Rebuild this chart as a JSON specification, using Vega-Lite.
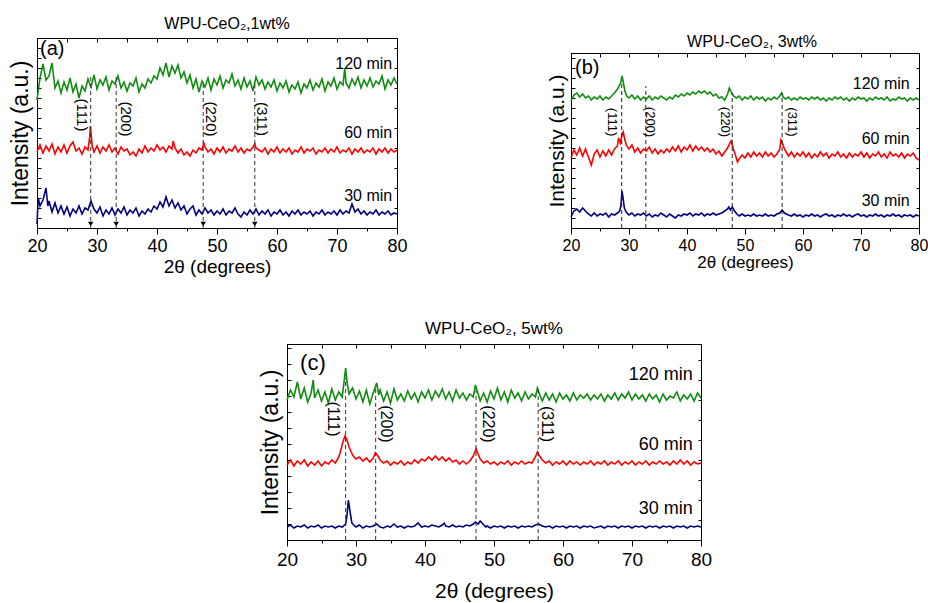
{
"$schema": "https://vega.github.io/schema/vega-lite/v6.json",
"padding": {"left": 9, "top": 15, "right": 5, "bottom": 0},
"config": {
  "font": "Liberation Sans",
  "view": {"stroke": "black", "strokeWidth": 1},
  "axis": {"domainColor": "black", "tickColor": "black", "labelColor": "black", "titleColor": "black", "grid": false, "titleFontWeight": "normal", "labelFont": "Liberation Sans", "titleFont": "Liberation Sans", "labelFlush": false},
  "title": {"fontWeight": "normal", "color": "black", "font": "Liberation Sans"},
  "text": {"font": "Liberation Sans", "color": "black"}
},
"datasets": {
"a": [
{"s":120,"x":20,"y":128},{"s":120,"x":20.5,"y":150},{"s":120,"x":21,"y":164},{"s":120,"x":21.5,"y":148},{"s":120,"x":22,"y":152},{"s":120,"x":22.5,"y":165},{"s":120,"x":23,"y":140},{"s":120,"x":23.5,"y":147},{"s":120,"x":24,"y":135},{"s":120,"x":24.5,"y":146},{"s":120,"x":25,"y":138},{"s":120,"x":25.5,"y":150},{"s":120,"x":26,"y":136},{"s":120,"x":26.5,"y":144},{"s":120,"x":27,"y":130},{"s":120,"x":27.5,"y":142},{"s":120,"x":28,"y":137},{"s":120,"x":28.5,"y":149},{"s":120,"x":29,"y":141},{"s":120,"x":29.5,"y":153},{"s":120,"x":30,"y":139},{"s":120,"x":30.5,"y":148},{"s":120,"x":31,"y":143},{"s":120,"x":31.5,"y":151},{"s":120,"x":32,"y":138},{"s":120,"x":32.5,"y":147},{"s":120,"x":33,"y":144},{"s":120,"x":33.5,"y":152},{"s":120,"x":34,"y":140},{"s":120,"x":34.5,"y":146},{"s":120,"x":35,"y":137},{"s":120,"x":35.5,"y":145},{"s":120,"x":36,"y":142},{"s":120,"x":36.5,"y":150},{"s":120,"x":37,"y":136},{"s":120,"x":37.5,"y":144},{"s":120,"x":38,"y":140},{"s":120,"x":38.5,"y":149},{"s":120,"x":39,"y":145},{"s":120,"x":39.5,"y":152},{"s":120,"x":40,"y":149},{"s":120,"x":40.5,"y":160},{"s":120,"x":41,"y":153},{"s":120,"x":41.5,"y":165},{"s":120,"x":42,"y":151},{"s":120,"x":42.5,"y":162},{"s":120,"x":43,"y":155},{"s":120,"x":43.5,"y":163},{"s":120,"x":44,"y":150},{"s":120,"x":44.5,"y":156},{"s":120,"x":45,"y":145},{"s":120,"x":45.5,"y":153},{"s":120,"x":46,"y":140},{"s":120,"x":46.5,"y":149},{"s":120,"x":47,"y":136},{"s":120,"x":47.5,"y":147},{"s":120,"x":48,"y":141},{"s":120,"x":48.5,"y":150},{"s":120,"x":49,"y":138},{"s":120,"x":49.5,"y":149},{"s":120,"x":50,"y":143},{"s":120,"x":50.5,"y":152},{"s":120,"x":51,"y":140},{"s":120,"x":51.5,"y":148},{"s":120,"x":52,"y":145},{"s":120,"x":52.5,"y":154},{"s":120,"x":53,"y":142},{"s":120,"x":53.5,"y":148},{"s":120,"x":54,"y":139},{"s":120,"x":54.5,"y":150},{"s":120,"x":55,"y":141},{"s":120,"x":55.5,"y":147},{"s":120,"x":56,"y":137},{"s":120,"x":56.5,"y":151},{"s":120,"x":57,"y":143},{"s":120,"x":57.5,"y":148},{"s":120,"x":58,"y":139},{"s":120,"x":58.5,"y":146},{"s":120,"x":59,"y":141},{"s":120,"x":59.5,"y":148},{"s":120,"x":60,"y":137},{"s":120,"x":60.5,"y":145},{"s":120,"x":61,"y":140},{"s":120,"x":61.5,"y":147},{"s":120,"x":62,"y":136},{"s":120,"x":62.5,"y":143},{"s":120,"x":63,"y":139},{"s":120,"x":63.5,"y":146},{"s":120,"x":64,"y":135},{"s":120,"x":64.5,"y":144},{"s":120,"x":65,"y":140},{"s":120,"x":65.5,"y":148},{"s":120,"x":66,"y":138},{"s":120,"x":66.5,"y":145},{"s":120,"x":67,"y":141},{"s":120,"x":67.5,"y":149},{"s":120,"x":68,"y":137},{"s":120,"x":68.5,"y":146},{"s":120,"x":69,"y":142},{"s":120,"x":69.5,"y":150},{"s":120,"x":70,"y":139},{"s":120,"x":70.5,"y":146},{"s":120,"x":71,"y":143},{"s":120,"x":71.3,"y":160},{"s":120,"x":71.5,"y":145},{"s":120,"x":72,"y":140},{"s":120,"x":72.5,"y":149},{"s":120,"x":73,"y":143},{"s":120,"x":73.5,"y":151},{"s":120,"x":74,"y":140},{"s":120,"x":74.5,"y":148},{"s":120,"x":75,"y":142},{"s":120,"x":75.5,"y":150},{"s":120,"x":76,"y":141},{"s":120,"x":76.5,"y":147},{"s":120,"x":77,"y":144},{"s":120,"x":77.5,"y":152},{"s":120,"x":78,"y":139},{"s":120,"x":78.5,"y":148},{"s":120,"x":79,"y":143},{"s":120,"x":79.5,"y":150},{"s":120,"x":80,"y":144},
{"s":60,"x":20,"y":76},{"s":60,"x":20.5,"y":83},{"s":60,"x":21,"y":75},{"s":60,"x":21.5,"y":82},{"s":60,"x":22,"y":77},{"s":60,"x":22.5,"y":84},{"s":60,"x":23,"y":74},{"s":60,"x":23.5,"y":81},{"s":60,"x":24,"y":76},{"s":60,"x":24.5,"y":83},{"s":60,"x":25,"y":75},{"s":60,"x":25.5,"y":82},{"s":60,"x":26,"y":86},{"s":60,"x":26.5,"y":77},{"s":60,"x":27,"y":80},{"s":60,"x":27.5,"y":74},{"s":60,"x":28,"y":81},{"s":60,"x":28.5,"y":78},{"s":60,"x":28.8,"y":92},{"s":60,"x":28.9,"y":102},{"s":60,"x":29,"y":95},{"s":60,"x":29.2,"y":82},{"s":60,"x":29.5,"y":76},{"s":60,"x":30,"y":82},{"s":60,"x":30.5,"y":75},{"s":60,"x":31,"y":81},{"s":60,"x":31.5,"y":77},{"s":60,"x":32,"y":83},{"s":60,"x":32.5,"y":76},{"s":60,"x":33,"y":80},{"s":60,"x":33.5,"y":74},{"s":60,"x":34,"y":81},{"s":60,"x":34.5,"y":77},{"s":60,"x":35,"y":79},{"s":60,"x":35.5,"y":73},{"s":60,"x":36,"y":76},{"s":60,"x":36.5,"y":72},{"s":60,"x":37,"y":79},{"s":60,"x":37.5,"y":75},{"s":60,"x":38,"y":82},{"s":60,"x":38.5,"y":76},{"s":60,"x":39,"y":80},{"s":60,"x":39.5,"y":77},{"s":60,"x":40,"y":83},{"s":60,"x":40.5,"y":78},{"s":60,"x":41,"y":81},{"s":60,"x":41.5,"y":76},{"s":60,"x":42,"y":82},{"s":60,"x":42.5,"y":79},{"s":60,"x":42.7,"y":87},{"s":60,"x":43,"y":80},{"s":60,"x":43.5,"y":75},{"s":60,"x":44,"y":79},{"s":60,"x":44.5,"y":73},{"s":60,"x":45,"y":76},{"s":60,"x":45.5,"y":72},{"s":60,"x":46,"y":78},{"s":60,"x":46.5,"y":75},{"s":60,"x":47,"y":80},{"s":60,"x":47.5,"y":78},{"s":60,"x":47.8,"y":85},{"s":60,"x":48,"y":81},{"s":60,"x":48.5,"y":76},{"s":60,"x":49,"y":79},{"s":60,"x":49.5,"y":74},{"s":60,"x":50,"y":80},{"s":60,"x":50.5,"y":76},{"s":60,"x":51,"y":81},{"s":60,"x":51.5,"y":75},{"s":60,"x":52,"y":79},{"s":60,"x":52.5,"y":77},{"s":60,"x":53,"y":82},{"s":60,"x":53.5,"y":76},{"s":60,"x":54,"y":80},{"s":60,"x":54.5,"y":75},{"s":60,"x":55,"y":79},{"s":60,"x":55.5,"y":77},{"s":60,"x":56,"y":81},{"s":60,"x":56.3,"y":84},{"s":60,"x":56.5,"y":80},{"s":60,"x":57,"y":78},{"s":60,"x":57.5,"y":76},{"s":60,"x":58,"y":80},{"s":60,"x":58.5,"y":74},{"s":60,"x":59,"y":79},{"s":60,"x":59.5,"y":76},{"s":60,"x":60,"y":81},{"s":60,"x":60.5,"y":75},{"s":60,"x":61,"y":79},{"s":60,"x":61.5,"y":76},{"s":60,"x":62,"y":80},{"s":60,"x":62.5,"y":74},{"s":60,"x":63,"y":78},{"s":60,"x":63.5,"y":76},{"s":60,"x":64,"y":81},{"s":60,"x":64.5,"y":75},{"s":60,"x":65,"y":79},{"s":60,"x":65.5,"y":77},{"s":60,"x":66,"y":80},{"s":60,"x":66.5,"y":74},{"s":60,"x":67,"y":78},{"s":60,"x":67.5,"y":76},{"s":60,"x":68,"y":80},{"s":60,"x":68.5,"y":75},{"s":60,"x":69,"y":79},{"s":60,"x":69.5,"y":76},{"s":60,"x":70,"y":81},{"s":60,"x":70.5,"y":75},{"s":60,"x":71,"y":78},{"s":60,"x":71.5,"y":76},{"s":60,"x":72,"y":80},{"s":60,"x":72.5,"y":74},{"s":60,"x":73,"y":79},{"s":60,"x":73.5,"y":76},{"s":60,"x":74,"y":80},{"s":60,"x":74.5,"y":75},{"s":60,"x":75,"y":78},{"s":60,"x":75.5,"y":76},{"s":60,"x":76,"y":80},{"s":60,"x":76.5,"y":74},{"s":60,"x":77,"y":79},{"s":60,"x":77.5,"y":76},{"s":60,"x":78,"y":80},{"s":60,"x":78.5,"y":75},{"s":60,"x":79,"y":79},{"s":60,"x":79.5,"y":76},{"s":60,"x":80,"y":78},
{"s":30,"x":20,"y":4},{"s":30,"x":20.2,"y":30},{"s":30,"x":20.5,"y":22},{"s":30,"x":21,"y":28},{"s":30,"x":21.5,"y":40},{"s":30,"x":21.8,"y":22},{"s":30,"x":22,"y":27},{"s":30,"x":22.5,"y":16},{"s":30,"x":23,"y":25},{"s":30,"x":23.5,"y":15},{"s":30,"x":24,"y":22},{"s":30,"x":24.5,"y":14},{"s":30,"x":25,"y":21},{"s":30,"x":25.5,"y":12},{"s":30,"x":26,"y":19},{"s":30,"x":26.5,"y":15},{"s":30,"x":27,"y":22},{"s":30,"x":27.5,"y":14},{"s":30,"x":28,"y":20},{"s":30,"x":28.5,"y":18},{"s":30,"x":29,"y":27},{"s":30,"x":29.5,"y":19},{"s":30,"x":30,"y":15},{"s":30,"x":30.5,"y":21},{"s":30,"x":31,"y":12},{"s":30,"x":31.5,"y":18},{"s":30,"x":32,"y":14},{"s":30,"x":32.5,"y":20},{"s":30,"x":33,"y":13},{"s":30,"x":33.5,"y":19},{"s":30,"x":34,"y":15},{"s":30,"x":34.5,"y":21},{"s":30,"x":35,"y":13},{"s":30,"x":35.5,"y":18},{"s":30,"x":36,"y":15},{"s":30,"x":36.5,"y":20},{"s":30,"x":37,"y":12},{"s":30,"x":37.5,"y":17},{"s":30,"x":38,"y":14},{"s":30,"x":38.5,"y":19},{"s":30,"x":39,"y":16},{"s":30,"x":39.5,"y":22},{"s":30,"x":40,"y":19},{"s":30,"x":40.5,"y":26},{"s":30,"x":41,"y":21},{"s":30,"x":41.5,"y":31},{"s":30,"x":42,"y":22},{"s":30,"x":42.5,"y":28},{"s":30,"x":43,"y":20},{"s":30,"x":43.5,"y":25},{"s":30,"x":44,"y":18},{"s":30,"x":44.5,"y":22},{"s":30,"x":45,"y":14},{"s":30,"x":45.5,"y":19},{"s":30,"x":46,"y":22},{"s":30,"x":46.5,"y":13},{"s":30,"x":47,"y":18},{"s":30,"x":47.5,"y":14},{"s":30,"x":48,"y":20},{"s":30,"x":48.5,"y":15},{"s":30,"x":49,"y":18},{"s":30,"x":49.5,"y":13},{"s":30,"x":50,"y":17},{"s":30,"x":50.5,"y":14},{"s":30,"x":51,"y":19},{"s":30,"x":51.5,"y":13},{"s":30,"x":52,"y":17},{"s":30,"x":52.5,"y":15},{"s":30,"x":53,"y":20},{"s":30,"x":53.5,"y":14},{"s":30,"x":54,"y":11},{"s":30,"x":54.5,"y":16},{"s":30,"x":55,"y":13},{"s":30,"x":55.5,"y":18},{"s":30,"x":56,"y":14},{"s":30,"x":56.5,"y":19},{"s":30,"x":57,"y":13},{"s":30,"x":57.5,"y":17},{"s":30,"x":58,"y":14},{"s":30,"x":58.5,"y":18},{"s":30,"x":59,"y":12},{"s":30,"x":59.5,"y":16},{"s":30,"x":60,"y":14},{"s":30,"x":60.5,"y":18},{"s":30,"x":61,"y":13},{"s":30,"x":61.5,"y":16},{"s":30,"x":62,"y":12},{"s":30,"x":62.5,"y":17},{"s":30,"x":63,"y":14},{"s":30,"x":63.5,"y":18},{"s":30,"x":64,"y":13},{"s":30,"x":64.5,"y":16},{"s":30,"x":65,"y":14},{"s":30,"x":65.5,"y":17},{"s":30,"x":66,"y":12},{"s":30,"x":66.5,"y":16},{"s":30,"x":67,"y":14},{"s":30,"x":67.5,"y":18},{"s":30,"x":68,"y":13},{"s":30,"x":68.5,"y":16},{"s":30,"x":69,"y":14},{"s":30,"x":69.5,"y":17},{"s":30,"x":70,"y":13},{"s":30,"x":70.5,"y":18},{"s":30,"x":71,"y":14},{"s":30,"x":71.5,"y":17},{"s":30,"x":72,"y":15},{"s":30,"x":72.5,"y":24},{"s":30,"x":73,"y":16},{"s":30,"x":73.5,"y":19},{"s":30,"x":74,"y":14},{"s":30,"x":74.5,"y":17},{"s":30,"x":75,"y":13},{"s":30,"x":75.5,"y":16},{"s":30,"x":76,"y":14},{"s":30,"x":76.5,"y":18},{"s":30,"x":77,"y":13},{"s":30,"x":77.5,"y":16},{"s":30,"x":78,"y":14},{"s":30,"x":78.5,"y":17},{"s":30,"x":79,"y":13},{"s":30,"x":79.5,"y":15},{"s":30,"x":80,"y":14}
],
"b": [
{"s":120,"x":20,"y":127},{"s":120,"x":20.5,"y":133},{"s":120,"x":21,"y":135},{"s":120,"x":21.5,"y":131},{"s":120,"x":22,"y":134},{"s":120,"x":22.5,"y":130},{"s":120,"x":23,"y":132},{"s":120,"x":23.5,"y":128},{"s":120,"x":24,"y":131},{"s":120,"x":24.5,"y":129},{"s":120,"x":25,"y":132},{"s":120,"x":25.5,"y":128},{"s":120,"x":26,"y":131},{"s":120,"x":26.5,"y":129},{"s":120,"x":27,"y":132},{"s":120,"x":27.5,"y":135},{"s":120,"x":28,"y":139},{"s":120,"x":28.3,"y":142},{"s":120,"x":28.6,"y":146},{"s":120,"x":28.8,"y":152},{"s":120,"x":29,"y":146},{"s":120,"x":29.3,"y":137},{"s":120,"x":29.6,"y":132},{"s":120,"x":30,"y":130},{"s":120,"x":30.5,"y":133},{"s":120,"x":31,"y":129},{"s":120,"x":31.5,"y":132},{"s":120,"x":32,"y":128},{"s":120,"x":32.5,"y":131},{"s":120,"x":33,"y":129},{"s":120,"x":33.5,"y":132},{"s":120,"x":34,"y":128},{"s":120,"x":34.5,"y":131},{"s":120,"x":35,"y":129},{"s":120,"x":35.5,"y":132},{"s":120,"x":36,"y":130},{"s":120,"x":36.5,"y":128},{"s":120,"x":37,"y":131},{"s":120,"x":37.5,"y":129},{"s":120,"x":38,"y":133},{"s":120,"x":38.5,"y":131},{"s":120,"x":39,"y":134},{"s":120,"x":39.5,"y":132},{"s":120,"x":40,"y":135},{"s":120,"x":40.5,"y":133},{"s":120,"x":41,"y":136},{"s":120,"x":41.5,"y":134},{"s":120,"x":42,"y":137},{"s":120,"x":42.5,"y":135},{"s":120,"x":43,"y":137},{"s":120,"x":43.5,"y":134},{"s":120,"x":44,"y":136},{"s":120,"x":44.5,"y":132},{"s":120,"x":45,"y":134},{"s":120,"x":45.5,"y":130},{"s":120,"x":46,"y":131},{"s":120,"x":46.5,"y":128},{"s":120,"x":47,"y":134},{"s":120,"x":47.3,"y":140},{"s":120,"x":47.6,"y":136},{"s":120,"x":48,"y":132},{"s":120,"x":48.5,"y":130},{"s":120,"x":49,"y":132},{"s":120,"x":49.5,"y":128},{"s":120,"x":50,"y":131},{"s":120,"x":50.5,"y":129},{"s":120,"x":51,"y":132},{"s":120,"x":51.5,"y":128},{"s":120,"x":52,"y":131},{"s":120,"x":52.5,"y":129},{"s":120,"x":53,"y":131},{"s":120,"x":53.5,"y":127},{"s":120,"x":54,"y":130},{"s":120,"x":54.5,"y":128},{"s":120,"x":55,"y":131},{"s":120,"x":55.5,"y":129},{"s":120,"x":56,"y":132},{"s":120,"x":56.3,"y":135},{"s":120,"x":56.6,"y":131},{"s":120,"x":57,"y":129},{"s":120,"x":57.5,"y":131},{"s":120,"x":58,"y":128},{"s":120,"x":58.5,"y":130},{"s":120,"x":59,"y":128},{"s":120,"x":59.5,"y":131},{"s":120,"x":60,"y":129},{"s":120,"x":60.5,"y":130},{"s":120,"x":61,"y":128},{"s":120,"x":61.5,"y":131},{"s":120,"x":62,"y":129},{"s":120,"x":62.5,"y":131},{"s":120,"x":63,"y":128},{"s":120,"x":63.5,"y":130},{"s":120,"x":64,"y":127},{"s":120,"x":64.5,"y":130},{"s":120,"x":65,"y":128},{"s":120,"x":65.5,"y":131},{"s":120,"x":66,"y":129},{"s":120,"x":66.5,"y":131},{"s":120,"x":67,"y":128},{"s":120,"x":67.5,"y":130},{"s":120,"x":68,"y":127},{"s":120,"x":68.5,"y":130},{"s":120,"x":69,"y":128},{"s":120,"x":69.5,"y":131},{"s":120,"x":70,"y":129},{"s":120,"x":70.5,"y":130},{"s":120,"x":71,"y":127},{"s":120,"x":71.5,"y":130},{"s":120,"x":72,"y":128},{"s":120,"x":72.5,"y":131},{"s":120,"x":73,"y":129},{"s":120,"x":73.5,"y":130},{"s":120,"x":74,"y":128},{"s":120,"x":74.5,"y":131},{"s":120,"x":75,"y":127},{"s":120,"x":75.5,"y":129},{"s":120,"x":76,"y":128},{"s":120,"x":76.5,"y":131},{"s":120,"x":77,"y":129},{"s":120,"x":77.5,"y":130},{"s":120,"x":78,"y":127},{"s":120,"x":78.5,"y":130},{"s":120,"x":79,"y":128},{"s":120,"x":79.5,"y":130},{"s":120,"x":80,"y":128},
{"s":60,"x":20,"y":70},{"s":60,"x":20.5,"y":78},{"s":60,"x":21,"y":73},{"s":60,"x":21.5,"y":80},{"s":60,"x":22,"y":72},{"s":60,"x":22.5,"y":79},{"s":60,"x":23,"y":71},{"s":60,"x":23.5,"y":63},{"s":60,"x":24,"y":74},{"s":60,"x":24.5,"y":78},{"s":60,"x":25,"y":71},{"s":60,"x":25.5,"y":77},{"s":60,"x":26,"y":72},{"s":60,"x":26.5,"y":78},{"s":60,"x":27,"y":73},{"s":60,"x":27.5,"y":79},{"s":60,"x":28,"y":82},{"s":60,"x":28.2,"y":90},{"s":60,"x":28.5,"y":85},{"s":60,"x":28.8,"y":93},{"s":60,"x":29,"y":96},{"s":60,"x":29.3,"y":88},{"s":60,"x":29.6,"y":82},{"s":60,"x":30,"y":79},{"s":60,"x":30.5,"y":83},{"s":60,"x":31,"y":76},{"s":60,"x":31.5,"y":80},{"s":60,"x":32,"y":75},{"s":60,"x":32.5,"y":79},{"s":60,"x":33,"y":77},{"s":60,"x":33.5,"y":81},{"s":60,"x":34,"y":75},{"s":60,"x":34.5,"y":79},{"s":60,"x":35,"y":74},{"s":60,"x":35.5,"y":78},{"s":60,"x":36,"y":75},{"s":60,"x":36.5,"y":79},{"s":60,"x":37,"y":76},{"s":60,"x":37.5,"y":81},{"s":60,"x":38,"y":77},{"s":60,"x":38.5,"y":82},{"s":60,"x":39,"y":76},{"s":60,"x":39.5,"y":81},{"s":60,"x":40,"y":78},{"s":60,"x":40.5,"y":83},{"s":60,"x":41,"y":77},{"s":60,"x":41.5,"y":82},{"s":60,"x":42,"y":78},{"s":60,"x":42.5,"y":81},{"s":60,"x":43,"y":77},{"s":60,"x":43.5,"y":80},{"s":60,"x":44,"y":76},{"s":60,"x":44.5,"y":79},{"s":60,"x":45,"y":74},{"s":60,"x":45.5,"y":77},{"s":60,"x":46,"y":72},{"s":60,"x":46.5,"y":76},{"s":60,"x":47,"y":80},{"s":60,"x":47.3,"y":84},{"s":60,"x":47.6,"y":87},{"s":60,"x":48,"y":79},{"s":60,"x":48.4,"y":72},{"s":60,"x":48.7,"y":66},{"s":60,"x":49,"y":69},{"s":60,"x":49.5,"y":73},{"s":60,"x":50,"y":70},{"s":60,"x":50.5,"y":75},{"s":60,"x":51,"y":71},{"s":60,"x":51.5,"y":76},{"s":60,"x":52,"y":72},{"s":60,"x":52.5,"y":75},{"s":60,"x":53,"y":71},{"s":60,"x":53.5,"y":76},{"s":60,"x":54,"y":72},{"s":60,"x":54.5,"y":75},{"s":60,"x":55,"y":71},{"s":60,"x":55.5,"y":74},{"s":60,"x":56,"y":79},{"s":60,"x":56.2,"y":88},{"s":60,"x":56.5,"y":84},{"s":60,"x":56.8,"y":79},{"s":60,"x":57.2,"y":75},{"s":60,"x":57.5,"y":72},{"s":60,"x":58,"y":76},{"s":60,"x":58.5,"y":71},{"s":60,"x":59,"y":75},{"s":60,"x":59.5,"y":72},{"s":60,"x":60,"y":76},{"s":60,"x":60.5,"y":71},{"s":60,"x":61,"y":75},{"s":60,"x":61.5,"y":70},{"s":60,"x":62,"y":74},{"s":60,"x":62.5,"y":71},{"s":60,"x":63,"y":76},{"s":60,"x":63.5,"y":72},{"s":60,"x":64,"y":75},{"s":60,"x":64.5,"y":70},{"s":60,"x":65,"y":74},{"s":60,"x":65.5,"y":72},{"s":60,"x":66,"y":76},{"s":60,"x":66.5,"y":71},{"s":60,"x":67,"y":74},{"s":60,"x":67.5,"y":70},{"s":60,"x":68,"y":75},{"s":60,"x":68.5,"y":71},{"s":60,"x":69,"y":74},{"s":60,"x":69.5,"y":72},{"s":60,"x":70,"y":76},{"s":60,"x":70.5,"y":71},{"s":60,"x":71,"y":75},{"s":60,"x":71.5,"y":70},{"s":60,"x":72,"y":74},{"s":60,"x":72.5,"y":72},{"s":60,"x":73,"y":76},{"s":60,"x":73.5,"y":71},{"s":60,"x":74,"y":74},{"s":60,"x":74.5,"y":70},{"s":60,"x":75,"y":76},{"s":60,"x":75.5,"y":72},{"s":60,"x":76,"y":74},{"s":60,"x":76.5,"y":71},{"s":60,"x":77,"y":75},{"s":60,"x":77.5,"y":70},{"s":60,"x":78,"y":74},{"s":60,"x":78.5,"y":72},{"s":60,"x":79,"y":75},{"s":60,"x":79.5,"y":70},{"s":60,"x":80,"y":68},
{"s":30,"x":20,"y":11},{"s":30,"x":20.5,"y":17},{"s":30,"x":21,"y":19},{"s":30,"x":21.5,"y":16},{"s":30,"x":22,"y":20},{"s":30,"x":22.5,"y":17},{"s":30,"x":23,"y":14},{"s":30,"x":23.5,"y":12},{"s":30,"x":24,"y":15},{"s":30,"x":24.5,"y":12},{"s":30,"x":25,"y":14},{"s":30,"x":25.5,"y":13},{"s":30,"x":26,"y":15},{"s":30,"x":26.5,"y":11},{"s":30,"x":27,"y":14},{"s":30,"x":27.5,"y":13},{"s":30,"x":28,"y":15},{"s":30,"x":28.4,"y":17},{"s":30,"x":28.6,"y":22},{"s":30,"x":28.8,"y":37},{"s":30,"x":29,"y":29},{"s":30,"x":29.2,"y":20},{"s":30,"x":29.5,"y":16},{"s":30,"x":30,"y":13},{"s":30,"x":30.5,"y":15},{"s":30,"x":31,"y":12},{"s":30,"x":31.5,"y":14},{"s":30,"x":32,"y":13},{"s":30,"x":32.5,"y":15},{"s":30,"x":33,"y":12},{"s":30,"x":33.5,"y":14},{"s":30,"x":34,"y":11},{"s":30,"x":34.5,"y":13},{"s":30,"x":35,"y":12},{"s":30,"x":35.5,"y":15},{"s":30,"x":36,"y":13},{"s":30,"x":36.5,"y":11},{"s":30,"x":37,"y":14},{"s":30,"x":37.5,"y":12},{"s":30,"x":38,"y":10},{"s":30,"x":38.5,"y":13},{"s":30,"x":39,"y":12},{"s":30,"x":39.5,"y":14},{"s":30,"x":40,"y":13},{"s":30,"x":40.5,"y":15},{"s":30,"x":41,"y":12},{"s":30,"x":41.5,"y":14},{"s":30,"x":42,"y":13},{"s":30,"x":42.5,"y":15},{"s":30,"x":43,"y":12},{"s":30,"x":43.5,"y":14},{"s":30,"x":44,"y":13},{"s":30,"x":44.5,"y":15},{"s":30,"x":45,"y":13},{"s":30,"x":45.5,"y":14},{"s":30,"x":46,"y":15},{"s":30,"x":46.5,"y":17},{"s":30,"x":47,"y":19},{"s":30,"x":47.2,"y":21},{"s":30,"x":47.5,"y":18},{"s":30,"x":47.8,"y":21},{"s":30,"x":48.2,"y":17},{"s":30,"x":48.6,"y":14},{"s":30,"x":49,"y":12},{"s":30,"x":49.5,"y":14},{"s":30,"x":50,"y":12},{"s":30,"x":50.5,"y":13},{"s":30,"x":51,"y":12},{"s":30,"x":51.5,"y":14},{"s":30,"x":52,"y":12},{"s":30,"x":52.5,"y":13},{"s":30,"x":53,"y":12},{"s":30,"x":53.5,"y":14},{"s":30,"x":54,"y":12},{"s":30,"x":54.5,"y":13},{"s":30,"x":55,"y":12},{"s":30,"x":55.5,"y":14},{"s":30,"x":56,"y":15},{"s":30,"x":56.4,"y":18},{"s":30,"x":56.8,"y":15},{"s":30,"x":57.5,"y":13},{"s":30,"x":58,"y":12},{"s":30,"x":58.5,"y":14},{"s":30,"x":59,"y":12},{"s":30,"x":59.5,"y":13},{"s":30,"x":60,"y":11},{"s":30,"x":60.5,"y":13},{"s":30,"x":61,"y":12},{"s":30,"x":61.5,"y":14},{"s":30,"x":62,"y":12},{"s":30,"x":62.5,"y":13},{"s":30,"x":63,"y":11},{"s":30,"x":63.5,"y":13},{"s":30,"x":64,"y":14},{"s":30,"x":64.5,"y":12},{"s":30,"x":65,"y":13},{"s":30,"x":65.5,"y":11},{"s":30,"x":66,"y":13},{"s":30,"x":66.5,"y":12},{"s":30,"x":67,"y":14},{"s":30,"x":67.5,"y":12},{"s":30,"x":68,"y":13},{"s":30,"x":68.5,"y":11},{"s":30,"x":69,"y":13},{"s":30,"x":69.5,"y":14},{"s":30,"x":70,"y":12},{"s":30,"x":70.5,"y":13},{"s":30,"x":71,"y":11},{"s":30,"x":71.5,"y":13},{"s":30,"x":72,"y":12},{"s":30,"x":72.5,"y":14},{"s":30,"x":73,"y":12},{"s":30,"x":73.5,"y":13},{"s":30,"x":74,"y":11},{"s":30,"x":74.5,"y":13},{"s":30,"x":75,"y":12},{"s":30,"x":75.5,"y":14},{"s":30,"x":76,"y":12},{"s":30,"x":76.5,"y":13},{"s":30,"x":77,"y":11},{"s":30,"x":77.5,"y":13},{"s":30,"x":78,"y":12},{"s":30,"x":78.5,"y":13},{"s":30,"x":79,"y":11},{"s":30,"x":79.5,"y":13},{"s":30,"x":80,"y":12}
],
"c": [
{"s":120,"x":20,"y":140},{"s":120,"x":20.5,"y":150},{"s":120,"x":21,"y":143},{"s":120,"x":21.5,"y":158},{"s":120,"x":22,"y":141},{"s":120,"x":22.5,"y":152},{"s":120,"x":23,"y":138},{"s":120,"x":23.5,"y":147},{"s":120,"x":23.8,"y":160},{"s":120,"x":24,"y":142},{"s":120,"x":24.5,"y":150},{"s":120,"x":25,"y":139},{"s":120,"x":25.5,"y":148},{"s":120,"x":26,"y":137},{"s":120,"x":26.5,"y":151},{"s":120,"x":27,"y":140},{"s":120,"x":27.5,"y":148},{"s":120,"x":28,"y":143},{"s":120,"x":28.3,"y":160},{"s":120,"x":28.5,"y":172},{"s":120,"x":28.7,"y":158},{"s":120,"x":29,"y":146},{"s":120,"x":29.5,"y":152},{"s":120,"x":30,"y":141},{"s":120,"x":30.5,"y":149},{"s":120,"x":31,"y":138},{"s":120,"x":31.5,"y":150},{"s":120,"x":32,"y":136},{"s":120,"x":32.5,"y":147},{"s":120,"x":33,"y":157},{"s":120,"x":33.3,"y":145},{"s":120,"x":33.5,"y":150},{"s":120,"x":34,"y":139},{"s":120,"x":34.5,"y":148},{"s":120,"x":35,"y":137},{"s":120,"x":35.5,"y":151},{"s":120,"x":36,"y":140},{"s":120,"x":36.5,"y":146},{"s":120,"x":37,"y":139},{"s":120,"x":37.5,"y":149},{"s":120,"x":38,"y":141},{"s":120,"x":38.5,"y":147},{"s":120,"x":39,"y":138},{"s":120,"x":39.5,"y":148},{"s":120,"x":40,"y":142},{"s":120,"x":40.5,"y":150},{"s":120,"x":41,"y":140},{"s":120,"x":41.5,"y":149},{"s":120,"x":42,"y":143},{"s":120,"x":42.5,"y":151},{"s":120,"x":43,"y":141},{"s":120,"x":43.5,"y":148},{"s":120,"x":44,"y":139},{"s":120,"x":44.5,"y":150},{"s":120,"x":45,"y":142},{"s":120,"x":45.5,"y":147},{"s":120,"x":46,"y":140},{"s":120,"x":46.5,"y":146},{"s":120,"x":47,"y":143},{"s":120,"x":47.3,"y":155},{"s":120,"x":47.7,"y":146},{"s":120,"x":48,"y":139},{"s":120,"x":48.5,"y":147},{"s":120,"x":49,"y":138},{"s":120,"x":49.5,"y":149},{"s":120,"x":50,"y":141},{"s":120,"x":50.5,"y":152},{"s":120,"x":51,"y":140},{"s":120,"x":51.5,"y":148},{"s":120,"x":52,"y":138},{"s":120,"x":52.5,"y":150},{"s":120,"x":53,"y":142},{"s":120,"x":53.5,"y":147},{"s":120,"x":54,"y":139},{"s":120,"x":54.5,"y":148},{"s":120,"x":55,"y":141},{"s":120,"x":55.5,"y":146},{"s":120,"x":56,"y":143},{"s":120,"x":56.3,"y":152},{"s":120,"x":56.7,"y":144},{"s":120,"x":57,"y":139},{"s":120,"x":57.5,"y":147},{"s":120,"x":58,"y":140},{"s":120,"x":58.5,"y":146},{"s":120,"x":59,"y":138},{"s":120,"x":59.5,"y":147},{"s":120,"x":60,"y":141},{"s":120,"x":60.5,"y":145},{"s":120,"x":61,"y":139},{"s":120,"x":61.5,"y":147},{"s":120,"x":62,"y":140},{"s":120,"x":62.5,"y":145},{"s":120,"x":63,"y":142},{"s":120,"x":63.5,"y":146},{"s":120,"x":64,"y":140},{"s":120,"x":64.5,"y":145},{"s":120,"x":65,"y":141},{"s":120,"x":65.5,"y":146},{"s":120,"x":66,"y":139},{"s":120,"x":66.5,"y":145},{"s":120,"x":67,"y":141},{"s":120,"x":67.5,"y":147},{"s":120,"x":68,"y":140},{"s":120,"x":68.5,"y":146},{"s":120,"x":69,"y":142},{"s":120,"x":69.5,"y":148},{"s":120,"x":70,"y":140},{"s":120,"x":70.5,"y":146},{"s":120,"x":71,"y":141},{"s":120,"x":71.5,"y":145},{"s":120,"x":72,"y":139},{"s":120,"x":72.5,"y":146},{"s":120,"x":73,"y":141},{"s":120,"x":73.5,"y":145},{"s":120,"x":74,"y":138},{"s":120,"x":74.5,"y":146},{"s":120,"x":75,"y":140},{"s":120,"x":75.5,"y":144},{"s":120,"x":76,"y":142},{"s":120,"x":76.5,"y":148},{"s":120,"x":77,"y":139},{"s":120,"x":77.5,"y":145},{"s":120,"x":78,"y":141},{"s":120,"x":78.5,"y":146},{"s":120,"x":79,"y":139},{"s":120,"x":79.5,"y":147},{"s":120,"x":80,"y":142},
{"s":60,"x":20,"y":75},{"s":60,"x":20.5,"y":80},{"s":60,"x":21,"y":74},{"s":60,"x":21.5,"y":79},{"s":60,"x":22,"y":76},{"s":60,"x":22.5,"y":80},{"s":60,"x":23,"y":74},{"s":60,"x":23.5,"y":78},{"s":60,"x":24,"y":75},{"s":60,"x":24.5,"y":79},{"s":60,"x":25,"y":74},{"s":60,"x":25.5,"y":78},{"s":60,"x":26,"y":76},{"s":60,"x":26.5,"y":80},{"s":60,"x":27,"y":77},{"s":60,"x":27.5,"y":83},{"s":60,"x":27.8,"y":90},{"s":60,"x":28.1,"y":98},{"s":60,"x":28.4,"y":104},{"s":60,"x":28.7,"y":100},{"s":60,"x":29,"y":93},{"s":60,"x":29.3,"y":88},{"s":60,"x":29.6,"y":84},{"s":60,"x":30,"y":81},{"s":60,"x":30.5,"y":83},{"s":60,"x":31,"y":79},{"s":60,"x":31.5,"y":82},{"s":60,"x":32,"y":78},{"s":60,"x":32.5,"y":82},{"s":60,"x":32.8,"y":87},{"s":60,"x":33.1,"y":85},{"s":60,"x":33.5,"y":80},{"s":60,"x":34,"y":77},{"s":60,"x":34.5,"y":79},{"s":60,"x":35,"y":75},{"s":60,"x":35.5,"y":78},{"s":60,"x":36,"y":76},{"s":60,"x":36.5,"y":79},{"s":60,"x":37,"y":75},{"s":60,"x":37.5,"y":78},{"s":60,"x":38,"y":76},{"s":60,"x":38.5,"y":80},{"s":60,"x":39,"y":77},{"s":60,"x":39.5,"y":81},{"s":60,"x":40,"y":79},{"s":60,"x":40.5,"y":83},{"s":60,"x":41,"y":80},{"s":60,"x":41.5,"y":84},{"s":60,"x":42,"y":80},{"s":60,"x":42.5,"y":83},{"s":60,"x":43,"y":79},{"s":60,"x":43.5,"y":82},{"s":60,"x":44,"y":78},{"s":60,"x":44.5,"y":80},{"s":60,"x":45,"y":76},{"s":60,"x":45.5,"y":79},{"s":60,"x":46,"y":76},{"s":60,"x":46.5,"y":79},{"s":60,"x":47,"y":84},{"s":60,"x":47.4,"y":91},{"s":60,"x":47.7,"y":86},{"s":60,"x":48,"y":81},{"s":60,"x":48.5,"y":77},{"s":60,"x":49,"y":79},{"s":60,"x":49.5,"y":76},{"s":60,"x":50,"y":78},{"s":60,"x":50.5,"y":75},{"s":60,"x":51,"y":78},{"s":60,"x":51.5,"y":76},{"s":60,"x":52,"y":79},{"s":60,"x":52.5,"y":75},{"s":60,"x":53,"y":78},{"s":60,"x":53.5,"y":76},{"s":60,"x":54,"y":79},{"s":60,"x":54.5,"y":76},{"s":60,"x":55,"y":78},{"s":60,"x":55.5,"y":77},{"s":60,"x":56,"y":83},{"s":60,"x":56.3,"y":88},{"s":60,"x":56.6,"y":84},{"s":60,"x":57,"y":80},{"s":60,"x":57.5,"y":77},{"s":60,"x":58,"y":79},{"s":60,"x":58.5,"y":75},{"s":60,"x":59,"y":78},{"s":60,"x":59.5,"y":76},{"s":60,"x":60,"y":79},{"s":60,"x":60.5,"y":75},{"s":60,"x":61,"y":79},{"s":60,"x":61.5,"y":76},{"s":60,"x":62,"y":78},{"s":60,"x":62.5,"y":75},{"s":60,"x":63,"y":78},{"s":60,"x":63.5,"y":76},{"s":60,"x":64,"y":79},{"s":60,"x":64.5,"y":75},{"s":60,"x":65,"y":78},{"s":60,"x":65.5,"y":76},{"s":60,"x":66,"y":79},{"s":60,"x":66.5,"y":75},{"s":60,"x":67,"y":78},{"s":60,"x":67.5,"y":76},{"s":60,"x":68,"y":79},{"s":60,"x":68.5,"y":75},{"s":60,"x":69,"y":78},{"s":60,"x":69.5,"y":76},{"s":60,"x":70,"y":79},{"s":60,"x":70.5,"y":75},{"s":60,"x":71,"y":78},{"s":60,"x":71.5,"y":76},{"s":60,"x":72,"y":79},{"s":60,"x":72.5,"y":75},{"s":60,"x":73,"y":78},{"s":60,"x":73.5,"y":76},{"s":60,"x":74,"y":79},{"s":60,"x":74.5,"y":76},{"s":60,"x":75,"y":78},{"s":60,"x":75.5,"y":75},{"s":60,"x":76,"y":79},{"s":60,"x":76.5,"y":76},{"s":60,"x":77,"y":80},{"s":60,"x":77.5,"y":76},{"s":60,"x":78,"y":79},{"s":60,"x":78.5,"y":75},{"s":60,"x":79,"y":78},{"s":60,"x":79.5,"y":76},{"s":60,"x":80,"y":77},
{"s":30,"x":20,"y":13},{"s":30,"x":20.5,"y":15},{"s":30,"x":21,"y":12},{"s":30,"x":21.5,"y":14},{"s":30,"x":22,"y":13},{"s":30,"x":22.5,"y":15},{"s":30,"x":23,"y":12},{"s":30,"x":23.5,"y":14},{"s":30,"x":24,"y":13},{"s":30,"x":24.5,"y":15},{"s":30,"x":25,"y":12},{"s":30,"x":25.5,"y":14},{"s":30,"x":26,"y":13},{"s":30,"x":26.5,"y":14},{"s":30,"x":27,"y":12},{"s":30,"x":27.5,"y":14},{"s":30,"x":28,"y":13},{"s":30,"x":28.5,"y":16},{"s":30,"x":28.7,"y":25},{"s":30,"x":28.9,"y":40},{"s":30,"x":29.1,"y":30},{"s":30,"x":29.4,"y":17},{"s":30,"x":29.8,"y":14},{"s":30,"x":30,"y":13},{"s":30,"x":30.5,"y":15},{"s":30,"x":31,"y":12},{"s":30,"x":31.5,"y":14},{"s":30,"x":32,"y":13},{"s":30,"x":32.5,"y":14},{"s":30,"x":33,"y":16},{"s":30,"x":33.5,"y":13},{"s":30,"x":34,"y":12},{"s":30,"x":34.5,"y":14},{"s":30,"x":35,"y":13},{"s":30,"x":35.5,"y":16},{"s":30,"x":36,"y":13},{"s":30,"x":36.5,"y":14},{"s":30,"x":37,"y":12},{"s":30,"x":37.5,"y":14},{"s":30,"x":38,"y":13},{"s":30,"x":38.5,"y":14},{"s":30,"x":39,"y":17},{"s":30,"x":39.5,"y":13},{"s":30,"x":40,"y":14},{"s":30,"x":40.5,"y":13},{"s":30,"x":41,"y":15},{"s":30,"x":41.5,"y":14},{"s":30,"x":42,"y":13},{"s":30,"x":42.5,"y":15},{"s":30,"x":42.8,"y":17},{"s":30,"x":43,"y":14},{"s":30,"x":43.5,"y":13},{"s":30,"x":44,"y":15},{"s":30,"x":44.5,"y":13},{"s":30,"x":45,"y":14},{"s":30,"x":45.5,"y":13},{"s":30,"x":46,"y":15},{"s":30,"x":46.5,"y":14},{"s":30,"x":47,"y":16},{"s":30,"x":47.3,"y":18},{"s":30,"x":47.7,"y":16},{"s":30,"x":48,"y":19},{"s":30,"x":48.4,"y":16},{"s":30,"x":48.8,"y":13},{"s":30,"x":49,"y":14},{"s":30,"x":49.5,"y":12},{"s":30,"x":50,"y":14},{"s":30,"x":50.5,"y":13},{"s":30,"x":51,"y":14},{"s":30,"x":51.5,"y":12},{"s":30,"x":52,"y":14},{"s":30,"x":52.5,"y":13},{"s":30,"x":53,"y":14},{"s":30,"x":53.5,"y":12},{"s":30,"x":54,"y":14},{"s":30,"x":54.5,"y":13},{"s":30,"x":55,"y":14},{"s":30,"x":55.5,"y":13},{"s":30,"x":56,"y":15},{"s":30,"x":56.5,"y":16},{"s":30,"x":57,"y":14},{"s":30,"x":57.5,"y":13},{"s":30,"x":58,"y":14},{"s":30,"x":58.5,"y":12},{"s":30,"x":59,"y":14},{"s":30,"x":59.5,"y":13},{"s":30,"x":60,"y":14},{"s":30,"x":60.5,"y":12},{"s":30,"x":61,"y":14},{"s":30,"x":61.5,"y":13},{"s":30,"x":62,"y":14},{"s":30,"x":62.5,"y":12},{"s":30,"x":63,"y":14},{"s":30,"x":63.5,"y":13},{"s":30,"x":64,"y":14},{"s":30,"x":64.5,"y":12},{"s":30,"x":65,"y":13},{"s":30,"x":65.5,"y":14},{"s":30,"x":66,"y":12},{"s":30,"x":66.5,"y":14},{"s":30,"x":67,"y":13},{"s":30,"x":67.5,"y":14},{"s":30,"x":68,"y":12},{"s":30,"x":68.5,"y":14},{"s":30,"x":69,"y":13},{"s":30,"x":69.5,"y":14},{"s":30,"x":70,"y":12},{"s":30,"x":70.5,"y":14},{"s":30,"x":71,"y":13},{"s":30,"x":71.5,"y":14},{"s":30,"x":72,"y":12},{"s":30,"x":72.5,"y":14},{"s":30,"x":73,"y":13},{"s":30,"x":73.5,"y":14},{"s":30,"x":74,"y":12},{"s":30,"x":74.5,"y":14},{"s":30,"x":75,"y":13},{"s":30,"x":75.5,"y":14},{"s":30,"x":76,"y":12},{"s":30,"x":76.5,"y":14},{"s":30,"x":77,"y":13},{"s":30,"x":77.5,"y":14},{"s":30,"x":78,"y":12},{"s":30,"x":78.5,"y":14},{"s":30,"x":79,"y":13},{"s":30,"x":79.5,"y":14},{"s":30,"x":80,"y":13}
],
"la": [{"x":28.95,"y":0,"y2":152},{"x":33.2,"y":0,"y2":152},{"x":47.7,"y":0,"y2":147},{"x":56.3,"y":0,"y2":147}],
"lb": [{"x":28.74,"y":0,"y2":146},{"x":32.9,"y":0,"y2":142},{"x":47.8,"y":0,"y2":135},{"x":56.4,"y":0,"y2":135}],
"lc": [{"x":28.5,"y":0,"y2":162},{"x":32.85,"y":0,"y2":152},{"x":47.4,"y":0,"y2":150},{"x":56.4,"y":0,"y2":150}],
"ta": [{"k":"p","t":"(111)","x":27.5,"y":113},{"k":"p","t":"(200)","x":34.8,"y":109},{"k":"p","t":"(220)","x":49.0,"y":109},{"k":"p","t":"(311)","x":57.5,"y":109},{"k":"l","t":"120 min","x":79.2,"y":164},{"k":"l","t":"60 min","x":79.2,"y":95},{"k":"l","t":"30 min","x":79.2,"y":32},{"k":"n","t":"(a)","x":20.5,"y":179}],
"tb": [{"k":"p","t":"(111)","x":27.1,"y":106},{"k":"p","t":"(200)","x":33.6,"y":106},{"k":"p","t":"(220)","x":46.6,"y":106},{"k":"p","t":"(311)","x":58.1,"y":106},{"k":"l","t":"120 min","x":78.4,"y":144},{"k":"l","t":"60 min","x":78.4,"y":89},{"k":"l","t":"30 min","x":78.4,"y":27},{"k":"n","t":"(b)","x":20.7,"y":160}],
"tc": [{"k":"p","t":"(111)","x":26.7,"y":121},{"k":"p","t":"(200)","x":34.4,"y":116},{"k":"p","t":"(220)","x":49.2,"y":116},{"k":"p","t":"(311)","x":57.7,"y":116},{"k":"l","t":"120 min","x":78.8,"y":165},{"k":"l","t":"60 min","x":78.8,"y":95},{"k":"l","t":"30 min","x":78.8,"y":31},{"k":"n","t":"(c)","x":21.9,"y":177}]
},
"spacing": 42,
"vconcat": [
{"hconcat": [
 {"width": 360, "height": 190,
  "title": {"text": "WPU-CeO₂,1wt%", "fontSize": 16, "offset": 6, "dx": 10, "frame": "group"},
  "resolve": {"axis": {"x": "independent", "y": "independent"}},
  "layer": [
   {"data": {"name": "a"}, "mark": {"type": "line", "strokeWidth": 1.6},
    "encoding": {
     "x": {"field": "x", "type": "quantitative", "scale": {"domain": [20, 80], "nice": false, "zero": false},
       "axis": {"orient": "bottom", "values": [20,25,30,35,40,45,50,55,60,65,70,75,80], "labelExpr": "datum.value % 10 === 0 ? datum.label : ''", "tickSize": {"condition": {"test": "datum.value % 10 === 0", "value": 6}, "value": 3}, "labelFontSize": 18, "labelPadding": 3, "title": "2θ (degrees)", "titleFontSize": 19, "titlePadding": 2}},
     "y": {"field": "y", "type": "quantitative", "scale": {"domain": [0, 190], "nice": false, "zero": false},
       "axis": {"orient": "left", "labels": false, "tickCount": 19, "tickSize": -4, "title": "Intensity (a.u.)", "titleFontSize": 23, "titlePadding": 4}},
     "color": {"field": "s", "type": "nominal", "scale": {"domain": [120, 60, 30], "range": ["#108c10", "#ff0000", "#000080"]}, "legend": null}
    }},
   {"data": {"name": "la"}, "mark": {"type": "rule", "strokeDash": [4, 3], "color": "#333333", "strokeWidth": 1},
    "encoding": {
     "x": {"field": "x", "type": "quantitative", "axis": {"orient": "top", "values": [20,25,30,35,40,45,50,55,60,65,70,75,80], "labels": false, "title": null, "tickSize": -4}},
     "y": {"field": "y", "type": "quantitative", "axis": {"orient": "right", "labels": false, "title": null, "tickSize": -3, "tickCount": 10}},
     "y2": {"field": "y2"}
    }},
   {"data": {"name": "la"}, "mark": {"type": "point", "shape": "triangle-down", "filled": true, "color": "black", "size": 30, "opacity": 1},
    "encoding": {"x": {"field": "x", "type": "quantitative", "axis": null}, "y": {"datum": 4, "type": "quantitative", "axis": null}}},
   {"data": {"name": "ta"}, "transform": [{"filter": "datum.k === 'p'"}], "mark": {"type": "text", "angle": 90, "fontSize": 15, "align": "center", "baseline": "middle"},
    "encoding": {"x": {"field": "x", "type": "quantitative", "axis": null}, "y": {"field": "y", "type": "quantitative", "axis": null}, "text": {"field": "t"}}},
   {"data": {"name": "ta"}, "transform": [{"filter": "datum.k === 'l'"}], "mark": {"type": "text", "fontSize": 16, "align": "right", "baseline": "middle"},
    "encoding": {"x": {"field": "x", "type": "quantitative", "axis": null}, "y": {"field": "y", "type": "quantitative", "axis": null}, "text": {"field": "t"}}},
   {"data": {"name": "ta"}, "transform": [{"filter": "datum.k === 'n'"}], "mark": {"type": "text", "fontSize": 20, "align": "left", "baseline": "middle"},
    "encoding": {"x": {"field": "x", "type": "quantitative", "axis": null}, "y": {"field": "y", "type": "quantitative", "axis": null}, "text": {"field": "t"}}}
  ]},
 {"vconcat": [
 {"width": 10, "height": 1, "data": {"values": []}, "mark": "point", "view": {"stroke": null}},
 {"width": 348, "height": 175,
  "title": {"text": "WPU-CeO₂, 3wt%", "fontSize": 16, "offset": 3, "dx": 7, "frame": "group"},
  "resolve": {"axis": {"x": "independent", "y": "independent"}},
  "layer": [
   {"data": {"name": "b"}, "mark": {"type": "line", "strokeWidth": 1.6},
    "encoding": {
     "x": {"field": "x", "type": "quantitative", "scale": {"domain": [20, 80], "nice": false, "zero": false},
       "axis": {"orient": "bottom", "values": [20,25,30,35,40,45,50,55,60,65,70,75,80], "labelExpr": "datum.value % 10 === 0 ? datum.label : ''", "tickSize": {"condition": {"test": "datum.value % 10 === 0", "value": 6}, "value": 3}, "labelFontSize": 16, "labelPadding": 3, "title": "2θ (degrees)", "titleFontSize": 17, "titlePadding": 1}},
     "y": {"field": "y", "type": "quantitative", "scale": {"domain": [0, 175], "nice": false, "zero": false},
       "axis": {"orient": "left", "labels": false, "tickCount": 18, "tickSize": -4, "title": "Intensity (a.u.)", "titleFontSize": 21, "titlePadding": 3}},
     "color": {"field": "s", "type": "nominal", "scale": {"domain": [120, 60, 30], "range": ["#108c10", "#ff0000", "#000080"]}, "legend": null}
    }},
   {"data": {"name": "lb"}, "mark": {"type": "rule", "strokeDash": [4, 3], "color": "#222222", "strokeWidth": 1},
    "encoding": {
     "x": {"field": "x", "type": "quantitative", "axis": {"orient": "top", "values": [20,25,30,35,40,45,50,55,60,65,70,75,80], "labels": false, "title": null, "tickSize": -4}},
     "y": {"field": "y", "type": "quantitative", "axis": {"orient": "right", "labels": false, "title": null, "tickSize": -3, "tickCount": 9}},
     "y2": {"field": "y2"}
    }},
   {"data": {"name": "tb"}, "transform": [{"filter": "datum.k === 'p'"}], "mark": {"type": "text", "angle": 90, "fontSize": 13, "align": "center", "baseline": "middle"},
    "encoding": {"x": {"field": "x", "type": "quantitative", "axis": null}, "y": {"field": "y", "type": "quantitative", "axis": null}, "text": {"field": "t"}}},
   {"data": {"name": "tb"}, "transform": [{"filter": "datum.k === 'l'"}], "mark": {"type": "text", "fontSize": 16, "align": "right", "baseline": "middle"},
    "encoding": {"x": {"field": "x", "type": "quantitative", "axis": null}, "y": {"field": "y", "type": "quantitative", "axis": null}, "text": {"field": "t"}}},
   {"data": {"name": "tb"}, "transform": [{"filter": "datum.k === 'n'"}], "mark": {"type": "text", "fontSize": 20, "align": "left", "baseline": "middle"},
    "encoding": {"x": {"field": "x", "type": "quantitative", "axis": null}, "y": {"field": "y", "type": "quantitative", "axis": null}, "text": {"field": "t"}}}
  ]}
 ], "spacing": -6}
], "spacing": 138},
{"hconcat": [
 {"width": 222, "height": 10, "data": {"values": []}, "mark": "point", "view": {"stroke": null}},
 {"width": 414, "height": 196,
  "title": {"text": "WPU-CeO₂, 5wt%", "fontSize": 17, "offset": 6, "frame": "group"},
  "resolve": {"axis": {"x": "independent", "y": "independent"}},
  "layer": [
   {"data": {"name": "c"}, "mark": {"type": "line", "strokeWidth": 1.6},
    "encoding": {
     "x": {"field": "x", "type": "quantitative", "scale": {"domain": [20, 80], "nice": false, "zero": false},
       "axis": {"orient": "bottom", "values": [20,25,30,35,40,45,50,55,60,65,70,75,80], "labelExpr": "datum.value % 10 === 0 ? datum.label : ''", "tickSize": {"condition": {"test": "datum.value % 10 === 0", "value": 6}, "value": 3}, "labelFontSize": 19, "labelPadding": 4, "title": "2θ (degrees)", "titleFontSize": 21, "titlePadding": 11}},
     "y": {"field": "y", "type": "quantitative", "scale": {"domain": [0, 196], "nice": false, "zero": false},
       "axis": {"orient": "left", "labels": false, "values": [0,16,32,48,64,80,96,112,128,144,160,176,192], "tickSize": -4, "title": "Intensity (a.u.)", "titleFontSize": 23, "titlePadding": 4}},
     "color": {"field": "s", "type": "nominal", "scale": {"domain": [120, 60, 30], "range": ["#108c10", "#ff0000", "#000080"]}, "legend": null}
    }},
   {"data": {"name": "lc"}, "mark": {"type": "rule", "strokeDash": [4, 3], "color": "#333333", "strokeWidth": 1},
    "encoding": {
     "x": {"field": "x", "type": "quantitative", "axis": {"orient": "top", "values": [20,25,30,35,40,45,50,55,60,65,70,75,80], "labels": false, "title": null, "tickSize": -4}},
     "y": {"field": "y", "type": "quantitative", "axis": {"orient": "right", "labels": false, "title": null, "tickSize": -3, "tickCount": 8}},
     "y2": {"field": "y2"}
    }},
   {"data": {"name": "tc"}, "transform": [{"filter": "datum.k === 'p'"}], "mark": {"type": "text", "angle": 90, "fontSize": 16, "align": "center", "baseline": "middle"},
    "encoding": {"x": {"field": "x", "type": "quantitative", "axis": null}, "y": {"field": "y", "type": "quantitative", "axis": null}, "text": {"field": "t"}}},
   {"data": {"name": "tc"}, "transform": [{"filter": "datum.k === 'l'"}], "mark": {"type": "text", "fontSize": 18, "align": "right", "baseline": "middle"},
    "encoding": {"x": {"field": "x", "type": "quantitative", "axis": null}, "y": {"field": "y", "type": "quantitative", "axis": null}, "text": {"field": "t"}}},
   {"data": {"name": "tc"}, "transform": [{"filter": "datum.k === 'n'"}], "mark": {"type": "text", "fontSize": 22, "align": "left", "baseline": "middle"},
    "encoding": {"x": {"field": "x", "type": "quantitative", "axis": null}, "y": {"field": "y", "type": "quantitative", "axis": null}, "text": {"field": "t"}}}
  ]}
], "spacing": 0}
]
}
